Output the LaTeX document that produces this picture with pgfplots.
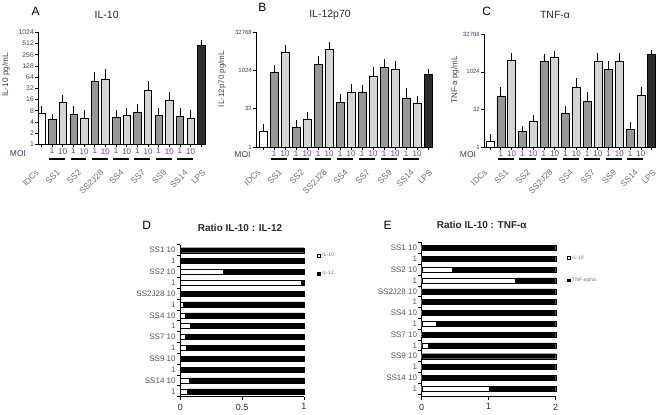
\documentclass[border=0pt]{standalone}
\usepackage{fontspec}
\setmainfont{Liberation Sans}
\usepackage{pgfplots}
\pgfplotsset{compat=1.18}
\definecolor{gA}{HTML}{979797}
\definecolor{gB}{HTML}{D4D4D4}
\definecolor{gD}{HTML}{2C2C2C}
\definecolor{tpurp}{HTML}{4B3C5E}
\definecolor{mpurp}{HTML}{7A3C98}
\definecolor{lgray}{HTML}{707070}
\definecolor{ttl}{HTML}{2A2A2A}
\definecolor{ygray}{HTML}{555555}
\definecolor{ypurp}{HTML}{6B5080}

\tikzset{grp/.style={rotate=45, anchor=east, inner sep=0pt, font=\fontsize{8.5}{9}\selectfont, text=lgray}}

\pgfplotsset{
  topbar/.style={
    scale only axis, anchor=south west,
    axis lines=left, axis line style={-, line width=0.9pt},
    ymin=1, enlargelimits=false, clip=false,
    xtick={0,...,15},
    xticklabels={,1,10,1,10,1,10,1,10,1,10,1,10,1,10,},
    tick align=outside, major tick length=3pt,
    tick style={line width=0.7pt, black},
    xticklabel style={font=\fontsize{8}{9}\selectfont, text=mpurp, inner sep=1pt},
    yticklabel style={font=\fontsize{6.8}{7}\selectfont, text=tpurp, inner sep=1pt},
    /pgf/number format/assume math mode=true,
  },
  bb/.style={ybar, bar shift=0pt, draw=black, line width=0.5pt, fill=#1,
    error bars/.cd, y dir=plus, y explicit,
    error bar style={line width=0.7pt, black},
    error mark options={mark size=2.2pt, line width=0.7pt, black}},
  hbar/.style={
    scale only axis, anchor=south west,
    axis lines=left, axis line style={-, line width=0.8pt},
    xbar stacked, bar width=5pt, enlargelimits=false, clip=false,
    ymax=13.5,
    ytick={-0.5,0.5,...,13.5}, y tick label as interval,
    yticklabels={\textcolor{ypurp}{1}, SS14 10, \textcolor{ypurp}{1}, SS9 10, \textcolor{ypurp}{1}, SS7 10, \textcolor{ypurp}{1}, SS4 10, \textcolor{ypurp}{1}, SS2J28 10, \textcolor{ypurp}{1}, SS2 10, \textcolor{ypurp}{1}, SS1 10},
    tick align=outside, major tick length=3.5pt,
    tick style={line width=0.7pt, black},
    yticklabel style={font=\fontsize{8}{9}\selectfont, text=ygray, inner sep=1pt},
    xticklabel style={font=\fontsize{9}{10}\selectfont, text=ttl},
    /pgf/number format/assume math mode=true,
    legend style={draw=none, fill=none, font=\fontsize{5}{6}\selectfont, text=lgray, inner sep=0pt, anchor=north west},
    legend cell align=left,
  },
  sq/.style={legend image code/.code={\draw[##1, line width=0.4pt] (0pt,-1.4pt) rectangle (2.8pt,1.4pt);}},
}

\newcommand{\grouplabels}[2]{%
  \pgfplotsinvokeforeach{1,3,5,7,9,11,13}{\draw[line width=1.1pt] ([yshift=-#1]axis cs:{##1-0.27},1) -- ([yshift=-#1]axis cs:{##1+1.22},1);}
  \node[grp] at ([yshift=-#2,xshift=-4pt]axis cs:0,1) {IDCs};
  \node[grp] at ([yshift=-#2,xshift=1pt]axis cs:1.5,1) {SS1};
  \node[grp] at ([yshift=-#2,xshift=1pt]axis cs:3.5,1) {SS2};
  \node[grp] at ([yshift=-#2,xshift=2pt]axis cs:5.5,1) {SS2J28};
  \node[grp] at ([yshift=-#2,xshift=1pt]axis cs:7.5,1) {SS4};
  \node[grp] at ([yshift=-#2,xshift=1pt]axis cs:9.5,1) {SS7};
  \node[grp] at ([yshift=-#2,xshift=1pt]axis cs:11.5,1) {SS9};
  \node[grp] at ([yshift=-#2,xshift=1pt]axis cs:13.5,1) {SS14};
  \node[grp] at ([yshift=-#2,xshift=3pt]axis cs:15,1) {LPS};
}

\begin{document}
\begin{tikzpicture}
\useasboundingbox (0,0) rectangle (659pt,415pt);

% ---------------- Panel A ----------------
\begin{axis}[topbar, ymode=log, log basis y=2, at={(38pt,270.7pt)}, width=167pt, height=112pt,
  xmin=-0.33, xmax=15.35, ymax=1024, bar width=7.4pt,
  ytick={1,2,4,8,16,32,64,128,256,512,1024},
  yticklabels={1,2,4,8,16,32,64,128,256,512,1024}]
\addplot[bb=white] table[x=x,y=y,y error plus=e,row sep=\\]{x y e\\ 0 6.7 2.5\\};
\addplot[bb=gA] table[x=x,y=y,y error plus=e,row sep=\\]{x y e\\
1 4.7 1.1\\ 3 6.5 3.0\\ 5 48 30\\ 7 5.3 2.2\\ 9 7.4 2.9\\ 11 6.0 2.4\\ 13 5.7 2.7\\};
\addplot[bb=gB] table[x=x,y=y,y error plus=e,row sep=\\]{x y e\\
2 13.4 5.0\\ 4 5.1 2.2\\ 6 57 37\\ 8 6.0 2.2\\ 10 28 15.6\\ 12 14.9 7.1\\ 14 4.9 2.4\\};
\addplot[bb=gD] table[x=x,y=y,y error plus=e,row sep=\\]{x y e\\ 15 448 115\\};
\grouplabels{14.7pt}{27pt}
\end{axis}

% ---------------- Panel B ----------------
\begin{axis}[topbar, ymode=log, log basis y=2, at={(256pt,268pt)}, width=175.8pt, height=115pt,
  xmin=-0.64, xmax=15.34, ymax=32768, bar width=8pt,
  yticklabel style={font=\fontsize{6}{7}\selectfont},
  ytick={1,32,1024,32768},
  yticklabels={1,32,1024,32768}]
\addplot[bb=white] table[x=x,y=y,y error plus=e,row sep=\\]{x y e\\ 0 4.2 2.2\\};
\addplot[bb=gA] table[x=x,y=y,y error plus=e,row sep=\\]{x y e\\
1 826 479\\ 3 5.9 3.4\\ 5 1720 1260\\ 7 58 37\\ 9 145 84\\ 11 1390 880\\ 13 84 90\\};
\addplot[bb=gB] table[x=x,y=y,y error plus=e,row sep=\\]{x y e\\
2 5150 3040\\ 4 12.6 6.7\\ 6 6800 4000\\ 8 136 115\\ 10 592 498\\ 12 1120 880\\ 14 53 31\\};
\addplot[bb=gD] table[x=x,y=y,y error plus=e,row sep=\\]{x y e\\ 15 709 226\\};
\grouplabels{12pt}{24pt}
\end{axis}

% ---------------- Panel C ----------------
\begin{axis}[topbar, ymode=log, log basis y=2, at={(484pt,268pt)}, width=171.7pt, height=112.7pt,
  xmin=-0.56, xmax=15.37, ymax=32768, bar width=8pt,
  yticklabel style={font=\fontsize{6}{7}\selectfont},
  ytick={1,32,1024,32768},
  yticklabels={1,32,1024,32768}]
\addplot[bb=white] table[x=x,y=y,y error plus=e,row sep=\\]{x y e\\ 0 1.7 1.0\\};
\addplot[bb=gA] table[x=x,y=y,y error plus=e,row sep=\\]{x y e\\
1 113 98\\ 3 4.3 1.6\\ 5 2700 1760\\ 7 21.8 14\\ 9 67 65\\ 11 1290 1030\\ 13 5.0 3\\};
\addplot[bb=gB] table[x=x,y=y,y error plus=e,row sep=\\]{x y e\\
2 2980 1740\\ 4 10.3 5.7\\ 6 4060 1490\\ 8 247 213\\ 10 2700 1900\\ 12 2800 1800\\ 14 114 97\\};
\addplot[bb=gD] table[x=x,y=y,y error plus=e,row sep=\\]{x y e\\ 15 5050 1430\\};
\grouplabels{12pt}{24pt}
\end{axis}

% ---------------- Panel D ----------------
\begin{axis}[hbar, at={(180.3pt,18.3pt)}, width=123.7pt, height=151.9pt,
  xmin=0, xmax=1, ymin=-0.5,
  xtick={0,0.5,1}, xticklabels={0,0.5,1},
  legend style={at={(1.105,0.96)}, row sep=9pt}]
\addplot[sq, draw=black, fill=white, line width=0.4pt] coordinates {
(0.055,0) (0.075,1) (0.005,2) (0.01,3) (0.05,4) (0.04,5) (0.08,6) (0.04,7)
(0.025,8) (0.005,9) (0.98,10) (0.35,11) (0.003,12) (0.005,13)};
\addplot[sq, draw=black, fill=black, line width=0.4pt] coordinates {
(0.945,0) (0.925,1) (0.995,2) (0.99,3) (0.95,4) (0.96,5) (0.92,6) (0.96,7)
(0.975,8) (0.995,9) (0.02,10) (0.65,11) (0.997,12) (0.995,13)};
\legend{IL-10, IL-12}
\end{axis}

% ---------------- Panel E ----------------
\begin{axis}[hbar, at={(421.7pt,18.3pt)}, width=134pt, height=154.1pt,
  xmin=0, xmax=2, ymin=-0.74,
  xtick={0,1,2}, xticklabels={0,1,2},
  legend style={at={(1.084,0.93)}, row sep=13pt}]
\addplot[sq, draw=black, fill=white, line width=0.4pt] coordinates {
(1.0,0) (0.02,1) (0.005,2) (0.005,3) (0.1,4) (0.005,5) (0.22,6) (0.01,7)
(0.005,8) (0.005,9) (1.4,10) (0.45,11) (0.02,12) (0.005,13)};
\addplot[sq, draw=black, fill=black, line width=0.4pt] coordinates {
(1.0,0) (1.98,1) (1.995,2) (1.995,3) (1.9,4) (1.995,5) (1.78,6) (1.99,7)
(1.995,8) (1.995,9) (0.6,10) (1.55,11) (1.98,12) (1.995,13)};
\legend{IL-10, TNF-alpha}
\end{axis}

% ---------------- titles and labels ----------------
\node[font=\fontsize{12}{13}\selectfont, text=black] at (35.7pt,403.3pt) {A};
\node[font=\fontsize{10.5}{12}\selectfont, text=ttl] at (106.7pt,400.5pt) {IL-10};
\node[font=\fontsize{12}{13}\selectfont, text=black] at (262.3pt,407.5pt) {B};
\node[font=\fontsize{10.5}{12}\selectfont, text=ttl] at (330pt,400pt) {IL-12p70};
\node[font=\fontsize{12}{13}\selectfont, text=black] at (486.7pt,403.3pt) {C};
\node[font=\fontsize{10.5}{12}\selectfont, text=ttl] at (555pt,400pt) {TNF-α};

\node[rotate=90, font=\fontsize{8.2}{9}\selectfont, text=tpurp] at (6pt,340pt) {IL-10 pg/mL};
\node[rotate=90, font=\fontsize{8}{9}\selectfont, text=tpurp] at (222pt,336pt) {IL-12p70 pg/mL};
\node[rotate=90, font=\fontsize{8}{9}\selectfont, text=tpurp] at (455pt,335pt) {TNF-a pg/mL};

\node[font=\fontsize{8.5}{9}\selectfont, text=tpurp] at (18pt,261.5pt) {MOI};
\node[font=\fontsize{8.5}{9}\selectfont, text=tpurp] at (242.5pt,260.7pt) {MOI};
\node[font=\fontsize{8.5}{9}\selectfont, text=tpurp] at (468pt,260.7pt) {MOI};

\node[font=\fontsize{12}{13}\selectfont, text=black] at (146.7pt,189.3pt) {D};
\node[font=\bfseries\fontsize{10}{11}\selectfont, text=ttl] at (240pt,186.7pt) {Ratio IL-10 : IL-12};
\node[font=\fontsize{12}{13}\selectfont, text=black] at (387.7pt,189.3pt) {E};
\node[font=\bfseries\fontsize{10}{11}\selectfont, text=ttl] at (481.7pt,190pt) {Ratio IL-10 : TNF-α};
\end{tikzpicture}
\end{document}
